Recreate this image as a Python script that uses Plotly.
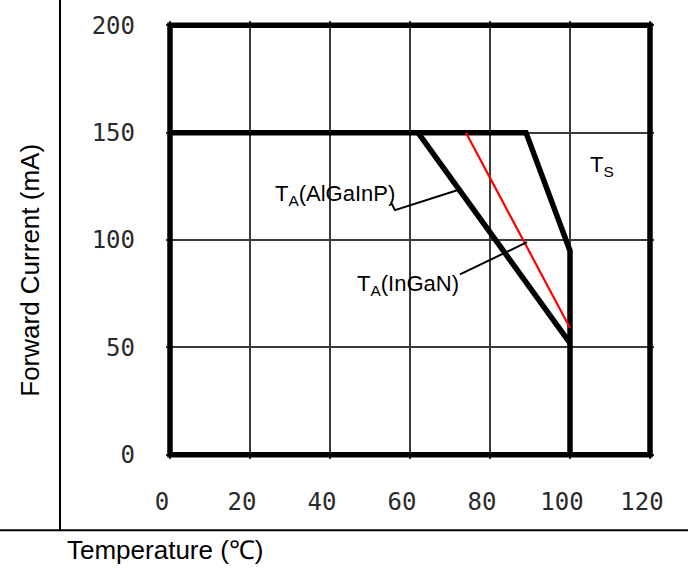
import plotly.graph_objects as go

# Derating curves: forward current (mA) vs. temperature (°C)
ts_temp = [0, 89, 100, 100]
ts_current = [150, 150, 95, 0]

algainp_temp = [62, 100]
algainp_current = [150, 52]

ingan_temp = [74, 100]
ingan_current = [150, 59]

# Leader lines from the labels to their curves
algainp_leader_temp = [55.25, 56.25, 72]
algainp_leader_current = [117.5, 113.9, 123.3]
ingan_leader_temp = [72.5, 89.25]
ingan_leader_current = [84, 99]

x_ticks = [0, 20, 40, 60, 80, 100, 120]
y_ticks = [0, 50, 100, 150, 200]

x_range = [-1, 121]
y_range = [-2, 202]

fig = go.Figure()

fig.add_trace(go.Scatter(x=ts_temp, y=ts_current, mode="lines",
                         line=dict(color="black", width=5.5), hoverinfo="skip"))
fig.add_trace(go.Scatter(x=algainp_temp, y=algainp_current, mode="lines",
                         line=dict(color="black", width=5.5), hoverinfo="skip"))
fig.add_trace(go.Scatter(x=ingan_temp, y=ingan_current, mode="lines",
                         line=dict(color="#ff0000", width=2.2), hoverinfo="skip"))
fig.add_trace(go.Scatter(x=algainp_leader_temp, y=algainp_leader_current, mode="lines",
                         line=dict(color="black", width=2), hoverinfo="skip"))
fig.add_trace(go.Scatter(x=ingan_leader_temp, y=ingan_leader_current, mode="lines",
                         line=dict(color="black", width=2), hoverinfo="skip"))

# Thick frame around the data region
fig.add_shape(type="rect", xref="x", yref="y", x0=x_ticks[0], x1=x_ticks[-1],
              y0=y_ticks[0], y1=y_ticks[-1], line=dict(color="black", width=5.5),
              layer="above")

# Table rules around the chart
fig.add_shape(type="line", xref="paper", yref="paper", x0=-0.2172, x1=-0.2172,
              y0=-0.1629, y1=1.05, line=dict(color="black", width=2))
fig.add_shape(type="line", xref="paper", yref="paper", x0=-0.345, x1=1.075,
              y0=-0.1629, y1=-0.1629, line=dict(color="black", width=2))

label_font = dict(family="Liberation Sans, Arial, sans-serif", size=22, color="black")

fig.add_annotation(x=25.75, y=120.8, text="T<sub>A</sub>(AlGaInP)", showarrow=False,
                   xanchor="left", yanchor="middle", font=label_font)
fig.add_annotation(x=46.25, y=79.2, text="T<sub>A</sub>(InGaN)", showarrow=False,
                   xanchor="left", yanchor="middle", font=label_font)
fig.add_annotation(x=108, y=134.6, text="T<sub>S</sub>", showarrow=False,
                   xanchor="center", yanchor="middle", font=label_font)

title_font = dict(family="Liberation Sans, Arial, sans-serif", size=26, color="black")
fig.add_annotation(xref="paper", yref="paper", x=-0.2787, y=0.4321,
                   text="Forward Current (mA)", textangle=-90, showarrow=False,
                   xanchor="center", yanchor="middle", font=title_font)
fig.add_annotation(xref="paper", yref="paper", x=-0.207, y=-0.2081,
                   text="Temperature (℃)", showarrow=False,
                   xanchor="left", yanchor="middle", font=title_font)

tick_font = dict(family="DejaVu Sans Mono, monospace", size=24, color="#2a2a2a")

fig.update_xaxes(range=x_range, tickvals=x_ticks, ticktext=[str(v) for v in x_ticks],
                 showgrid=True, gridcolor="#3a3a3a", gridwidth=1.6, zeroline=False,
                 showline=False, ticks="", tickfont=tick_font,
                 ticklabelstandoff=26, ticklabelshift=-8, fixedrange=True)
fig.update_yaxes(range=y_range, tickvals=y_ticks, ticktext=[str(v) for v in y_ticks],
                 showgrid=True, gridcolor="#3a3a3a", gridwidth=1.6, zeroline=False,
                 showline=False, ticks="", tickfont=tick_font,
                 ticklabelstandoff=30, fixedrange=True)

fig.update_layout(width=688, height=569, showlegend=False,
                  margin=dict(l=166, r=34, t=17, b=110),
                  paper_bgcolor="white", plot_bgcolor="white")

fig.write_html("out.html", config={"displayModeBar": False})
